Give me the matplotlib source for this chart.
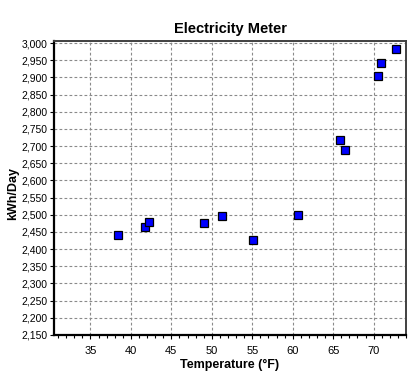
import matplotlib
matplotlib.use('Agg')
import matplotlib.pyplot as plt
from matplotlib.ticker import MultipleLocator, FuncFormatter

temps = [38.4, 41.8, 42.2, 49.0, 51.3, 55.1, 60.6, 65.9, 66.5, 70.5, 70.9, 72.8]
kwh = [2440, 2464, 2478, 2475, 2496, 2426, 2499, 2718, 2688, 2904, 2943, 2983]

plt.rcParams['font.family'] = ['Liberation Sans', 'DejaVu Sans']

fig = plt.figure(figsize=(4.19, 3.72), dpi=100)
ax = fig.add_axes([0.129, 0.0995, 0.840, 0.790])

ax.plot(temps, kwh, 's', color='#0000ff', markeredgecolor='black',
        markersize=5.5, markeredgewidth=0.9, clip_on=False, zorder=3)

ax.set_xlim(30.5, 74)
ax.set_ylim(2150, 3006)
ax.xaxis.set_major_locator(MultipleLocator(5))
ax.xaxis.set_minor_locator(MultipleLocator(1))
ax.yaxis.set_major_locator(MultipleLocator(50))
ax.yaxis.set_major_formatter(FuncFormatter(lambda v, p: f'{int(v):,}'))

ax.grid(True, which='major', color='#8a8a8a', linestyle=(0, (2.5, 2)), linewidth=0.8)
ax.tick_params(axis='both', which='major', labelsize=8, length=3, width=0.8, pad=2)
ax.tick_params(axis='y', which='major', labelsize=7.5, pad=1.5)
ax.tick_params(axis='x', which='minor', length=2, width=0.8)
ax.tick_params(axis='x', which='major', pad=5)

for side in ['left', 'bottom']:
    ax.spines[side].set_linewidth(1.6)
    ax.spines[side].set_color('black')
for side in ['top', 'right']:
    ax.spines[side].set_linewidth(1.4)
    ax.spines[side].set_color('#404040')

ax.set_title('Electricity Meter', fontsize=10.5, fontweight='bold', pad=6)
ax.set_xlabel('Temperature (°F)', fontsize=9, fontweight='bold', labelpad=2)
ax.set_ylabel('kWh/Day', fontsize=9, fontweight='bold')
ax.yaxis.set_label_coords(-0.1, 0.483)

fig.savefig('out.png', dpi=100)
